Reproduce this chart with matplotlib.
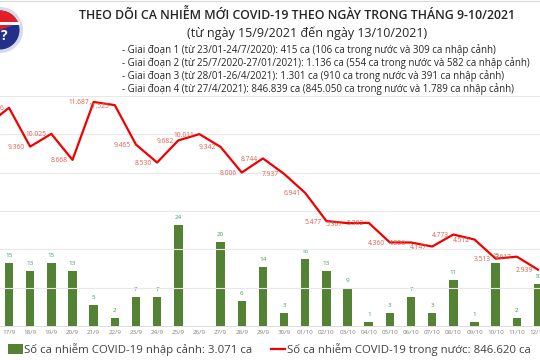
import matplotlib
matplotlib.use('Agg')
import matplotlib.pyplot as plt
from matplotlib.patches import Circle, Wedge, Rectangle
from matplotlib.lines import Line2D

plt.rcParams['font.family'] = ['Open Sans', 'DejaVu Sans']

# categories (16/9 only partly visible at the left edge)
days = ['16/9', '17/9', '18/9', '19/9', '20/9', '21/9', '22/9', '23/9', '24/9', '25/9',
        '26/9', '27/9', '28/9', '29/9', '30/9', '01/10', '02/10', '03/10', '04/10',
        '05/10', '06/10', '07/10', '08/10', '09/10', '10/10', '11/10', '12/10']

# imported cases (bars), 16/9 is off the picture
imported = [None, 15, 13, 15, 13, 5, 2, 7, 7, 24, 0, 20, 6, 14, 3, 16, 13, 9, 1,
            3, 7, 3, 11, 1, 15, 2, 10]

# domestic cases (line)
domestic = [10500, 11386, 9360, 10025, 8668, 11687, 11525, 9465, 8530, 9682, 10011,
            9342, 8006, 8744, 7937, 6941, 5477, 5367, 5382, 4360, 4356, 4147, 4773,
            4512, 3513, 3617, 2939]

title = 'THEO DÕI CA NHIỄM MỚI COVID-19 THEO NGÀY TRONG THÁNG 9-10/2021'
subtitle = '(từ ngày 15/9/2021 đến ngày 13/10/2021)'
stages = ['- Giai đoạn 1 (từ 23/01-24/7/2020): 415 ca (106 ca trong nước và 309 ca nhập cảnh)',
          '- Giai đoạn 2 (từ 25/7/2020-27/01/2021): 1.136 ca (554 ca trong nước và 582 ca nhập cảnh)',
          '- Giai đoạn 3 (từ 28/01-26/4/2021): 1.301 ca (910 ca trong nước và 391 ca nhập cảnh)',
          '- Giai đoạn 4 (từ 27/4/2021): 846.839 ca (845.050 ca trong nước và 1.789 ca nhập cảnh)']
legend_bar = 'Số ca nhiễm COVID-19 nhập cảnh: 3.071 ca'
legend_line = 'Số ca nhiễm COVID-19 trong nước: 846.620 ca'


def fmt(v):
    return f'{v:,}'.replace(',', '.')


fig = plt.figure(figsize=(5.4, 3.6), dpi=100)

# full-figure overlay in pixel coords for header, logo and legend
bg = fig.add_axes([0, 0, 1, 1])
bg.set_xlim(0, 540)
bg.set_ylim(360, 0)
bg.axis('off')

ax = fig.add_axes([0, 34 / 360, 1, 230 / 360])
ax.patch.set_visible(False)
ax2 = ax.twinx()

x = list(range(-1, len(days) - 1))
bx = [i for i, v in zip(x, imported) if v is not None]
bv = [v for v in imported if v is not None]

ax.bar(bx, bv, width=0.4, color='#548235', zorder=2)
for i, v in zip(bx, bv):
    if v > 0:
        ax.text(i, v + 1.2, str(v), ha='center', va='bottom', fontsize=4.5, color='#3e9b62')

ax.set_ylim(0, 230 / 4.2)
ax.set_xlim(-9 / 21.16, 25 + 2 / 21.16)
ax.set_xticks(x[1:])
ax.set_xticklabels(days[1:], fontsize=4.5, color='#7f7f7f')
ax.tick_params(axis='x', length=0, pad=3)
ax.set_yticks([])
for s in ax.spines.values():
    s.set_visible(False)
ax.spines['bottom'].set_visible(True)
ax.spines['bottom'].set_color('#d9d9d9')
ax.spines['bottom'].set_linewidth(0.6)

ax2.plot(x, domestic, color='#f00000', lw=1.6, zorder=3)
for i, v in zip(x[1:], domestic[1:]):
    ax2.annotate(fmt(v), (i, v), xytext=(-5, -1), textcoords='offset pixels',
                 ha='right', va='center', fontsize=4.8, color='#e35b4b')
ax2.set_ylim(0, 12000)
ax2.set_yticks(range(2000, 14000, 2000))
ax2.yaxis.grid(True, color='#e8e8e8', lw=0.8)
ax2.set_axisbelow(True)
ax2.tick_params(axis='y', length=0, labelright=False)
for s in ax2.spines.values():
    s.set_visible(False)
ax.set_zorder(1)
ax2.set_zorder(2)
ax2.patch.set_visible(False)

# header
bg.plot([0, 540], [1, 1], color='#d9d9d9', lw=0.8)
bg.text(297, 15, title, ha='center', va='center', fontsize=8.9, fontweight='semibold', color='#262626')
bg.text(307, 33, subtitle, ha='center', va='center', fontsize=9, color='#262626')
for k, s in enumerate(stages):
    bg.text(122, 50 + 13 * k, s, ha='left', va='center', fontsize=7.0, color='#262626')

# logo, partly cut at the left edge
bg.add_patch(Circle((0, 30), 23, facecolor='#d5d9e8', edgecolor='none'))
bg.add_patch(Circle((0, 30), 19.5, facecolor='#23308a', edgecolor='none'))
bg.add_patch(Wedge((0, 30), 19.5, 200, 340, facecolor='#e21f26', edgecolor='none'))
bg.add_patch(Rectangle((-20, 22), 40, 3, facecolor='white', edgecolor='none'))
bg.text(4, 36, '?', ha='center', va='center', fontsize=10, fontweight='bold', color='white')

# legend
bg.add_patch(Rectangle((8, 344), 15, 10, facecolor='#548235', edgecolor='none'))
bg.text(24, 349, legend_bar, ha='left', va='center', fontsize=8.2, color='#404040')
bg.add_line(Line2D([271, 285], [349, 349], color='#f00000', lw=1.6))
bg.text(287, 349, legend_line, ha='left', va='center', fontsize=8.2, color='#404040')

fig.savefig('out.png', dpi=100)
